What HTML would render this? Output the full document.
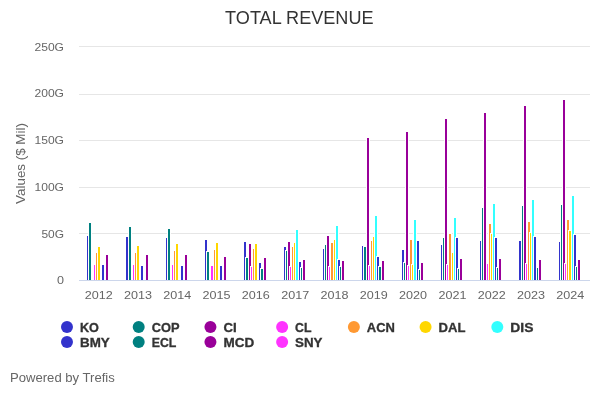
<!DOCTYPE html>
<html><head><meta charset="utf-8"><title>TOTAL REVENUE</title>
<style>
html,body{margin:0;padding:0;background:#fff;}
body{width:600px;height:400px;overflow:hidden;font-family:"Liberation Sans",sans-serif;}
svg{display:block;will-change:transform;font-family:"Liberation Sans",sans-serif;}
</style></head><body>
<svg width="600" height="400" viewBox="0 0 600 400">
<rect width="600" height="400" fill="#ffffff"/>
<g stroke="#e6e6e6" stroke-width="1" fill="none"><path d="M79 233.5H590"/>
<path d="M79 187.5H590"/>
<path d="M79 140.5H590"/>
<path d="M79 94.5H590"/>
<path d="M79 46.5H590"/></g>
<path d="M79 280.5H590" stroke="#ccd6eb" stroke-width="1" fill="none"/>
<clipPath id="pc"><rect x="79" y="40" width="511" height="240"/></clipPath>
<g clip-path="url(#pc)" stroke="#ffffff" stroke-width="1">
<g fill="#3333cc"><rect x="86.5" y="235.5" width="3" height="45"/><rect x="125.5" y="236.5" width="3" height="44"/><rect x="165.5" y="237.5" width="3" height="43"/><rect x="204.5" y="239.5" width="3" height="41"/><rect x="243.5" y="241.5" width="3" height="39"/><rect x="283.5" y="246.5" width="3" height="34"/><rect x="322.5" y="248.5" width="3" height="32"/><rect x="361.5" y="245.5" width="3" height="35"/><rect x="401.5" y="249.5" width="3" height="31"/><rect x="440.5" y="244.5" width="3" height="36"/><rect x="479.5" y="240.5" width="3" height="40"/><rect x="518.5" y="240.5" width="3" height="40"/><rect x="558.5" y="241.5" width="3" height="39"/></g>
<g fill="#008080"><rect x="88.5" y="222.5" width="3" height="58"/><rect x="128.5" y="226.5" width="3" height="54"/><rect x="167.5" y="228.5" width="3" height="52"/><rect x="206.5" y="251.5" width="3" height="29"/><rect x="245.5" y="257.5" width="3" height="23"/><rect x="285.5" y="250.5" width="3" height="30"/><rect x="324.5" y="244.5" width="3" height="36"/><rect x="363.5" y="246.5" width="3" height="34"/><rect x="403.5" y="262.5" width="3" height="18"/><rect x="442.5" y="237.5" width="3" height="43"/><rect x="481.5" y="207.5" width="3" height="73"/><rect x="521.5" y="205.5" width="3" height="75"/><rect x="560.5" y="204.5" width="3" height="76"/></g>
<g fill="#990099"><rect x="248.5" y="243.5" width="3" height="37"/><rect x="287.5" y="241.5" width="3" height="39"/><rect x="326.5" y="235.5" width="3" height="45"/><rect x="366.5" y="137.5" width="3" height="143"/><rect x="405.5" y="131.5" width="3" height="149"/><rect x="444.5" y="118.5" width="3" height="162"/><rect x="483.5" y="112.5" width="3" height="168"/><rect x="523.5" y="105.5" width="3" height="175"/><rect x="562.5" y="99.5" width="3" height="181"/></g>
<g fill="#ff33ff"><rect x="93.5" y="264.5" width="3" height="16"/><rect x="132.5" y="264.5" width="3" height="16"/><rect x="171.5" y="264.5" width="3" height="16"/><rect x="210.5" y="265.5" width="3" height="15"/><rect x="250.5" y="266.5" width="3" height="14"/><rect x="289.5" y="266.5" width="3" height="14"/><rect x="328.5" y="266.5" width="3" height="14"/><rect x="368.5" y="265.5" width="3" height="15"/><rect x="407.5" y="265.5" width="3" height="15"/><rect x="446.5" y="264.5" width="3" height="16"/><rect x="486.5" y="263.5" width="3" height="17"/><rect x="525.5" y="263.5" width="3" height="17"/><rect x="564.5" y="263.5" width="3" height="17"/></g>
<g fill="#ff9933"><rect x="95.5" y="252.5" width="3" height="28"/><rect x="134.5" y="252.5" width="3" height="28"/><rect x="173.5" y="250.5" width="3" height="30"/><rect x="213.5" y="249.5" width="3" height="31"/><rect x="252.5" y="248.5" width="3" height="32"/><rect x="291.5" y="246.5" width="3" height="34"/><rect x="330.5" y="242.5" width="3" height="38"/><rect x="370.5" y="240.5" width="3" height="40"/><rect x="409.5" y="239.5" width="3" height="41"/><rect x="448.5" y="233.5" width="3" height="47"/><rect x="488.5" y="223.5" width="3" height="57"/><rect x="527.5" y="221.5" width="3" height="59"/><rect x="566.5" y="219.5" width="3" height="61"/></g>
<g fill="#ffd700"><rect x="97.5" y="246.5" width="3" height="34"/><rect x="136.5" y="245.5" width="3" height="35"/><rect x="175.5" y="243.5" width="3" height="37"/><rect x="215.5" y="242.5" width="3" height="38"/><rect x="254.5" y="243.5" width="3" height="37"/><rect x="293.5" y="242.5" width="3" height="38"/><rect x="333.5" y="239.5" width="3" height="41"/><rect x="372.5" y="236.5" width="3" height="44"/><rect x="411.5" y="264.5" width="3" height="16"/><rect x="451.5" y="252.5" width="3" height="28"/><rect x="490.5" y="233.5" width="3" height="47"/><rect x="529.5" y="232.5" width="3" height="48"/><rect x="568.5" y="230.5" width="3" height="50"/></g>
<g fill="#33ffff"><rect x="295.5" y="229.5" width="3" height="51"/><rect x="335.5" y="225.5" width="3" height="55"/><rect x="374.5" y="215.5" width="3" height="65"/><rect x="413.5" y="219.5" width="3" height="61"/><rect x="453.5" y="217.5" width="3" height="63"/><rect x="492.5" y="203.5" width="3" height="77"/><rect x="531.5" y="199.5" width="3" height="81"/><rect x="571.5" y="195.5" width="3" height="85"/></g>
<g fill="#3333cc"><rect x="101.5" y="264.5" width="3" height="16"/><rect x="140.5" y="265.5" width="3" height="15"/><rect x="180.5" y="265.5" width="3" height="15"/><rect x="219.5" y="265.5" width="3" height="15"/><rect x="258.5" y="262.5" width="3" height="18"/><rect x="298.5" y="261.5" width="3" height="19"/><rect x="337.5" y="259.5" width="3" height="21"/><rect x="376.5" y="256.5" width="3" height="24"/><rect x="416.5" y="240.5" width="3" height="40"/><rect x="455.5" y="237.5" width="3" height="43"/><rect x="494.5" y="237.5" width="3" height="43"/><rect x="533.5" y="236.5" width="3" height="44"/><rect x="573.5" y="234.5" width="3" height="46"/></g>
<g fill="#008080"><rect x="260.5" y="268.5" width="3" height="12"/><rect x="300.5" y="267.5" width="3" height="13"/><rect x="339.5" y="266.5" width="3" height="14"/><rect x="378.5" y="266.5" width="3" height="14"/><rect x="418.5" y="269.5" width="3" height="11"/><rect x="457.5" y="268.5" width="3" height="12"/><rect x="496.5" y="267.5" width="3" height="13"/><rect x="536.5" y="267.5" width="3" height="13"/><rect x="575.5" y="266.5" width="3" height="14"/></g>
<g fill="#990099"><rect x="105.5" y="254.5" width="3" height="26"/><rect x="145.5" y="254.5" width="3" height="26"/><rect x="184.5" y="254.5" width="3" height="26"/><rect x="223.5" y="256.5" width="3" height="24"/><rect x="263.5" y="257.5" width="3" height="23"/><rect x="302.5" y="259.5" width="3" height="21"/><rect x="341.5" y="260.5" width="3" height="20"/><rect x="381.5" y="260.5" width="3" height="20"/><rect x="420.5" y="262.5" width="3" height="18"/><rect x="459.5" y="258.5" width="3" height="22"/><rect x="498.5" y="258.5" width="3" height="22"/><rect x="538.5" y="259.5" width="3" height="21"/><rect x="577.5" y="259.5" width="3" height="21"/></g>
</g>
<g font-size="18" fill="#333333"><text x="225.10" y="24.00" textLength="148.41" lengthAdjust="spacingAndGlyphs">TOTAL REVENUE</text></g>
<g transform="translate(24.5,163.5) rotate(270)" font-size="12" fill="#666666"><text x="-40.43" y="0.00" textLength="80.86" lengthAdjust="spacingAndGlyphs">Values ($ Mil)</text></g>
<g font-size="11" fill="#666666"><text x="57.00" y="284.20" textLength="7.00" lengthAdjust="spacingAndGlyphs">0</text>
<text x="41.47" y="237.50" textLength="22.53" lengthAdjust="spacingAndGlyphs">50G</text>
<text x="34.47" y="190.80" textLength="29.53" lengthAdjust="spacingAndGlyphs">100G</text>
<text x="34.47" y="144.10" textLength="29.53" lengthAdjust="spacingAndGlyphs">150G</text>
<text x="34.47" y="97.40" textLength="29.53" lengthAdjust="spacingAndGlyphs">200G</text>
<text x="34.47" y="50.70" textLength="29.53" lengthAdjust="spacingAndGlyphs">250G</text></g>
<g font-size="11" fill="#666666"><text x="84.65" y="299.00" textLength="28.00" lengthAdjust="spacingAndGlyphs">2012</text>
<text x="123.96" y="299.00" textLength="28.00" lengthAdjust="spacingAndGlyphs">2013</text>
<text x="163.27" y="299.00" textLength="28.00" lengthAdjust="spacingAndGlyphs">2014</text>
<text x="202.58" y="299.00" textLength="28.00" lengthAdjust="spacingAndGlyphs">2015</text>
<text x="241.88" y="299.00" textLength="28.00" lengthAdjust="spacingAndGlyphs">2016</text>
<text x="281.19" y="299.00" textLength="28.00" lengthAdjust="spacingAndGlyphs">2017</text>
<text x="320.50" y="299.00" textLength="28.00" lengthAdjust="spacingAndGlyphs">2018</text>
<text x="359.81" y="299.00" textLength="28.00" lengthAdjust="spacingAndGlyphs">2019</text>
<text x="399.12" y="299.00" textLength="28.00" lengthAdjust="spacingAndGlyphs">2020</text>
<text x="438.42" y="299.00" textLength="28.00" lengthAdjust="spacingAndGlyphs">2021</text>
<text x="477.73" y="299.00" textLength="28.00" lengthAdjust="spacingAndGlyphs">2022</text>
<text x="517.04" y="299.00" textLength="28.00" lengthAdjust="spacingAndGlyphs">2023</text>
<text x="556.35" y="299.00" textLength="28.00" lengthAdjust="spacingAndGlyphs">2024</text></g>
<g font-size="12" font-weight="bold" fill="#333333" stroke="#333333" stroke-width="0.3"><circle cx="66.98" cy="327.00" r="6" fill="#3333cc" stroke="none"/><text x="79.98" y="331.70" textLength="18.97" lengthAdjust="spacingAndGlyphs">KO</text>
<circle cx="138.70" cy="327.00" r="6" fill="#008080" stroke="none"/><text x="151.70" y="331.70" textLength="27.81" lengthAdjust="spacingAndGlyphs">COP</text>
<circle cx="210.42" cy="327.00" r="6" fill="#990099" stroke="none"/><text x="223.42" y="331.70" textLength="13.28" lengthAdjust="spacingAndGlyphs">CI</text>
<circle cx="282.14" cy="327.00" r="6" fill="#ff33ff" stroke="none"/><text x="295.14" y="331.70" textLength="16.45" lengthAdjust="spacingAndGlyphs">CL</text>
<circle cx="353.86" cy="327.00" r="6" fill="#ff9933" stroke="none"/><text x="366.86" y="331.70" textLength="28.14" lengthAdjust="spacingAndGlyphs">ACN</text>
<circle cx="425.58" cy="327.00" r="6" fill="#ffd700" stroke="none"/><text x="438.58" y="331.70" textLength="26.91" lengthAdjust="spacingAndGlyphs">DAL</text>
<circle cx="497.30" cy="327.00" r="6" fill="#33ffff" stroke="none"/><text x="510.30" y="331.70" textLength="23.08" lengthAdjust="spacingAndGlyphs">DIS</text>
<circle cx="66.98" cy="342.00" r="6" fill="#3333cc" stroke="none"/><text x="79.98" y="346.70" textLength="29.78" lengthAdjust="spacingAndGlyphs">BMY</text>
<circle cx="138.70" cy="342.00" r="6" fill="#008080" stroke="none"/><text x="151.70" y="346.70" textLength="24.66" lengthAdjust="spacingAndGlyphs">ECL</text>
<circle cx="210.42" cy="342.00" r="6" fill="#990099" stroke="none"/><text x="223.42" y="346.70" textLength="30.72" lengthAdjust="spacingAndGlyphs">MCD</text>
<circle cx="282.14" cy="342.00" r="6" fill="#ff33ff" stroke="none"/><text x="295.14" y="346.70" textLength="27.38" lengthAdjust="spacingAndGlyphs">SNY</text></g>
<g font-size="12" fill="#666666"><text x="10.00" y="382.00" textLength="104.80" lengthAdjust="spacingAndGlyphs">Powered by Trefis</text></g>
</svg>
</body></html>
